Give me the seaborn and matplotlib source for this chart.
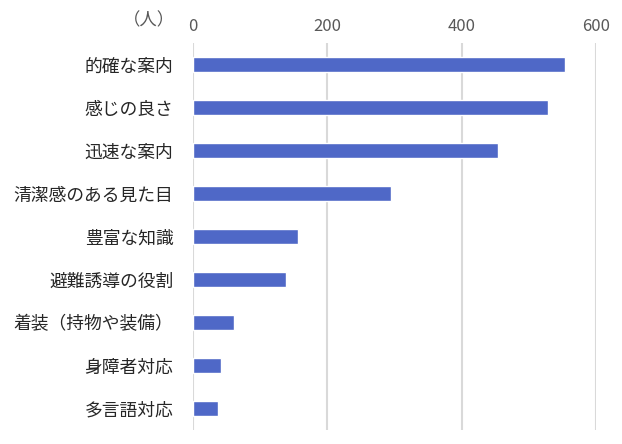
import matplotlib
matplotlib.use("Agg")
import matplotlib.pyplot as plt
import seaborn as sns
import pandas as pd

categories = ["的確な案内", "感じの良さ", "迅速な案内", "清潔感のある見た目", "豊富な知識",
              "避難誘導の役割", "着装（持物や装備）", "身障者対応", "多言語対応"]
counts = [554, 528, 455, 295, 157, 139, 61, 42, 38]

df = pd.DataFrame({"item": categories, "count": counts})

sns.set_style("white")
plt.rcParams["font.family"] = ["Noto Sans CJK JP", "DejaVu Sans"]

fig = plt.figure(figsize=(6.22, 4.44), dpi=100)
ax = fig.add_axes([0.310, 0.032, 0.648, 0.871])

sns.barplot(data=df, x="count", y="item", color="#4F68C7", width=0.36,
            saturation=1, ax=ax, zorder=3)

ax.set_xlim(0, 600)
ax.set_ylim(8.5, -0.5)
ax.set_xticks([0, 200, 400, 600])
ax.xaxis.tick_top()
ax.tick_params(axis="x", length=0, labelsize=12, labelcolor="#595959", pad=6)
ax.tick_params(axis="y", length=0, labelsize=12.8, labelcolor="#262626", pad=14)
ax.grid(axis="x", color="#D9D9D9", linewidth=1.5, zorder=0)
ax.set_xlabel("")
ax.set_ylabel("")
for s in ax.spines.values():
    s.set_visible(False)

fig.text(0.281, 0.955, "（人）", fontsize=12.5, color="#595959", ha="right", va="center")

fig.savefig("out.png", dpi=100)
